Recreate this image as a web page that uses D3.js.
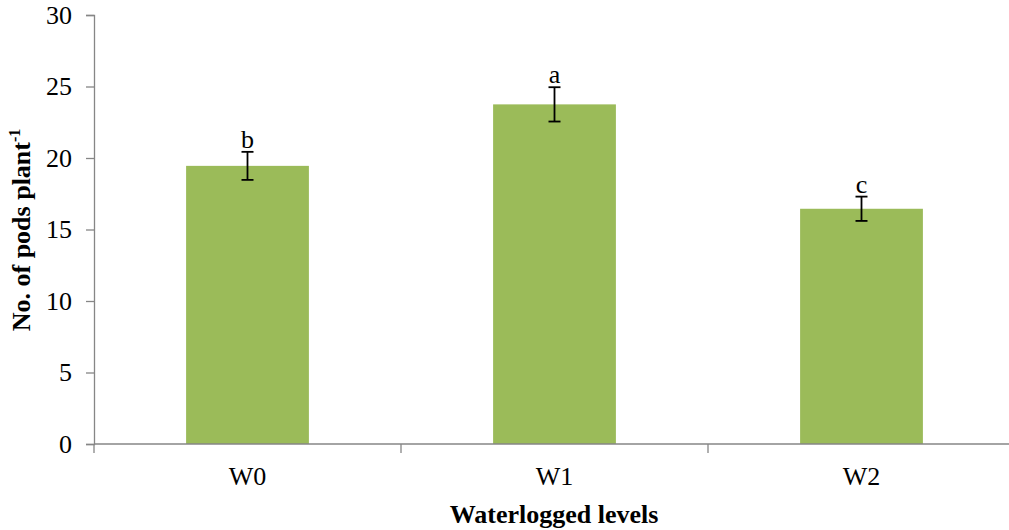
<!DOCTYPE html>
<html><head><meta charset="utf-8">
<script src="https://cdn.jsdelivr.net/npm/d3@7"></script>
<style>body{margin:0;background:#fff}svg{display:block}text{font-family:"Liberation Serif","Times New Roman",serif}</style>
</head><body>
<svg id="c" width="1009" height="530"></svg>
<script>
const categories = ["W0", "W1", "W2"];
const values = [19.45, 23.75, 16.45];
const errors = [0.98, 1.2, 0.85];
const letters = ["b", "a", "c"];
const yTicks = [0, 5, 10, 15, 20, 25, 30];

const svg = d3.select("#c");
const x0 = 94, x1 = 1015, yTop = 15, yBot = 444;
const x = d3.scaleBand().domain(categories).range([x0, x1]).paddingInner(0.6).paddingOuter(0.3);
const y = d3.scaleLinear().domain([0, 30]).range([yBot, yTop]);
const axisColor = "#868686";
const fs = 26;

svg.selectAll("rect.bar").data(values).join("rect")
  .attr("x", (d,i) => x(categories[i])).attr("width", x.bandwidth())
  .attr("y", d => y(d)).attr("height", d => y(0) - y(d))
  .attr("fill", "#9BBB59");

const ya = svg.append("g").attr("transform", `translate(${x0},0)`)
  .call(d3.axisLeft(y).tickValues(yTicks).tickSize(8).tickPadding(14));
ya.select(".domain").attr("stroke", axisColor).attr("stroke-width", 1.3);
ya.selectAll(".tick line").attr("stroke", axisColor).attr("stroke-width", 1.3);
ya.selectAll(".tick text").attr("font-size", fs).attr("fill", "#000").attr("font-family", "Liberation Serif");

const xa = svg.append("g").attr("transform", `translate(0,${yBot})`);
xa.append("line").attr("x1", x0).attr("x2", x1).attr("stroke", axisColor).attr("stroke-width", 1.3);
const boundaries = d3.range(categories.length + 1).map(i => x0 + i * (x1 - x0) / categories.length);
xa.selectAll("line.tk").data(boundaries).join("line").attr("class","tk")
  .attr("x1", d => d).attr("x2", d => d).attr("y1", 0).attr("y2", 9)
  .attr("stroke", axisColor).attr("stroke-width", 1.3);
xa.selectAll("text.lbl").data(categories).join("text").attr("class","lbl")
  .attr("x", d => x(d) + x.bandwidth()/2).attr("y", 41)
  .attr("text-anchor", "middle").attr("font-size", fs).text(d => d);

const eb = svg.append("g");
values.forEach((v, i) => {
  const cx = x(categories[i]) + x.bandwidth()/2;
  const g = eb.append("g").attr("stroke", "#000").attr("stroke-width", 1.8);
  g.append("line").attr("x1", cx).attr("x2", cx).attr("y1", y(v - errors[i])).attr("y2", y(v + errors[i]));
  g.append("line").attr("x1", cx-6).attr("x2", cx+6).attr("y1", y(v - errors[i])).attr("y2", y(v - errors[i]));
  g.append("line").attr("x1", cx-6).attr("x2", cx+6).attr("y1", y(v + errors[i])).attr("y2", y(v + errors[i]));
  svg.append("text").attr("x", cx).attr("y", y(v + errors[i]) - 4)
    .attr("text-anchor", "middle").attr("font-size", fs).text(letters[i]);
});

svg.append("text").attr("x", 554).attr("y", 523).attr("text-anchor", "middle")
  .attr("font-size", fs).attr("font-weight", "bold").text("Waterlogged levels");
const yt = svg.append("text").attr("transform", "translate(30,230) rotate(-90)")
  .attr("text-anchor", "middle").attr("font-size", fs).attr("font-weight", "bold");
yt.append("tspan").text("No. of pods plant");
yt.append("tspan").attr("font-size", 16).attr("dy", -10).text("-1");
</script>
</body></html>
